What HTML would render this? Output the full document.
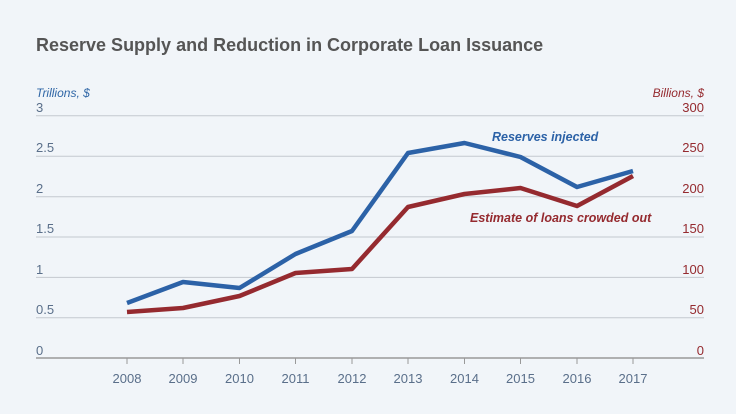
<!DOCTYPE html>
<html><head><style>
body{margin:0;background:#f1f5f9;}
svg{display:block;font-family:"Liberation Sans",sans-serif;}
</style></head><body>
<svg width="736" height="414" viewBox="0 0 736 414">
<rect width="736" height="414" fill="#f1f5f9"/>
<text x="36" y="51" font-size="18" font-weight="bold" fill="#555">Reserve Supply and Reduction in Corporate Loan Issuance</text>
<text x="36" y="97" font-size="12" font-style="italic" fill="#2f66a6">Trillions, $</text>
<text x="704" y="97" font-size="12" font-style="italic" fill="#952a2f" text-anchor="end">Billions, $</text>
<g stroke="#c4c9cf" stroke-width="1">
<line x1="36" x2="704" y1="115.7" y2="115.7"/>
<line x1="36" x2="704" y1="156.3" y2="156.3"/>
<line x1="36" x2="704" y1="196.7" y2="196.7"/>
<line x1="36" x2="704" y1="237" y2="237"/>
<line x1="36" x2="704" y1="277.4" y2="277.4"/>
<line x1="36" x2="704" y1="317.7" y2="317.7"/>
</g>
<line x1="36" x2="704" y1="358" y2="358" stroke="#999" stroke-width="1.5"/>
<g font-size="13" fill="#5a6f8a">
<text x="36" y="112">3</text><text x="36" y="152">2.5</text><text x="36" y="193">2</text>
<text x="36" y="233">1.5</text><text x="36" y="274">1</text><text x="36" y="314">0.5</text><text x="36" y="355">0</text>
</g>
<g font-size="13" fill="#952a2f" text-anchor="end">
<text x="704" y="112">300</text><text x="704" y="152">250</text><text x="704" y="193">200</text>
<text x="704" y="233">150</text><text x="704" y="274">100</text><text x="704" y="314">50</text><text x="704" y="355">0</text>
</g>
<g stroke="#999" stroke-width="1">
<line x1="127" x2="127" y1="358" y2="364"/><line x1="183" x2="183" y1="358" y2="364"/>
<line x1="239.5" x2="239.5" y1="358" y2="364"/><line x1="295.5" x2="295.5" y1="358" y2="364"/>
<line x1="352" x2="352" y1="358" y2="364"/><line x1="408" x2="408" y1="358" y2="364"/>
<line x1="464.5" x2="464.5" y1="358" y2="364"/><line x1="520.5" x2="520.5" y1="358" y2="364"/>
<line x1="577" x2="577" y1="358" y2="364"/><line x1="633" x2="633" y1="358" y2="364"/>
</g>
<g font-size="13" fill="#5a6f8a" text-anchor="middle">
<text x="127" y="383">2008</text><text x="183" y="383">2009</text><text x="239.5" y="383">2010</text>
<text x="295.5" y="383">2011</text><text x="352" y="383">2012</text><text x="408" y="383">2013</text>
<text x="464.5" y="383">2014</text><text x="520.5" y="383">2015</text><text x="577" y="383">2016</text>
<text x="633" y="383">2017</text>
</g>
<polyline fill="none" stroke="#2c62a7" stroke-width="4.5" stroke-linejoin="round" points="127,303 183,282 239.5,288 295.5,254 352,231 408,153 464.5,143 520.5,157 577,187 633,171"/>
<polyline fill="none" stroke="#952a2f" stroke-width="4.5" stroke-linejoin="round" points="127,312 183,308 239.5,296 295.5,273 352,269 408,207 464.5,194 520.5,188 577,206 633,176"/>
<text x="492" y="141" font-size="12.5" font-weight="bold" font-style="italic" fill="#2c62a7">Reserves injected</text>
<text x="470" y="222" font-size="12.5" font-weight="bold" font-style="italic" fill="#952a2f">Estimate of loans crowded out</text>
</svg>
</body></html>
